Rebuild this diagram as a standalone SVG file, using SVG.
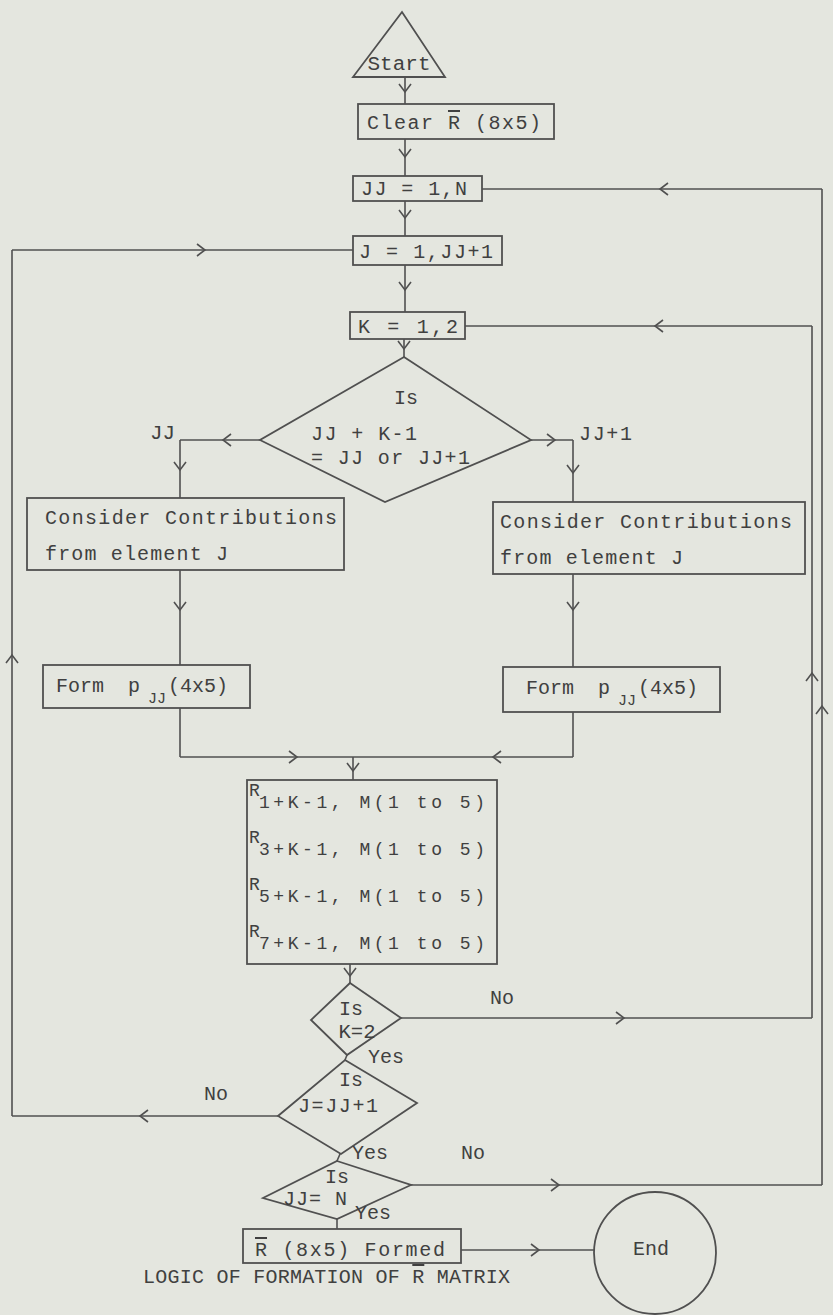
<svg xmlns="http://www.w3.org/2000/svg" width="833" height="1315" viewBox="0 0 833 1315">
<style>
.ln{fill:none;stroke:#505050;stroke-width:1.6}
.bx{fill:none;stroke:#505050;stroke-width:1.8}
.t{font-family:"Liberation Mono","DejaVu Sans Mono",monospace;font-size:20px;fill:#404040}
.r{font-size:18px}
.s{font-size:15px}
.m{text-anchor:middle}
</style>
<defs>
<marker id="chev" viewBox="-9 -7 11 14" markerWidth="11" markerHeight="14" refX="0" refY="0" orient="auto" markerUnits="userSpaceOnUse">
<path d="M-8,-6 L0,0 L-8,6" fill="none" stroke="#505050" stroke-width="1.6"/>
</marker>
</defs>
<rect x="0" y="0" width="833" height="1315" fill="#e4e6df"/>

<g id="connectors" class="ln">
<path d="M405,77 L405,92 L405,104" marker-mid="url(#chev)"/>
<path d="M405,139 L405,157 L405,176" marker-mid="url(#chev)"/>
<path d="M405,201 L405,218 L405,236" marker-mid="url(#chev)"/>
<path d="M405,265 L405,290 L405,312" marker-mid="url(#chev)"/>
<path d="M404,339 L404,349 L404,357" marker-mid="url(#chev)"/>
<path d="M260,440 L223,440 L180,440" marker-mid="url(#chev)"/>
<path d="M180,440 L180,470 L180,498" marker-mid="url(#chev)"/>
<path d="M531,440 L555,440 L573,440" marker-mid="url(#chev)"/>
<path d="M573,440 L573,473 L573,502" marker-mid="url(#chev)"/>
<path d="M180,570 L180,610 L180,665" marker-mid="url(#chev)"/>
<path d="M573,574 L573,610 L573,667" marker-mid="url(#chev)"/>
<path d="M180,708 L180,757"/>
<path d="M180,757 L297,757 L353,757" marker-mid="url(#chev)"/>
<path d="M573,712 L573,757"/>
<path d="M573,757 L493,757 L353,757" marker-mid="url(#chev)"/>
<path d="M353,757 L353,771 L353,780" marker-mid="url(#chev)"/>
<path d="M350,964 L350,976 L350,983" marker-mid="url(#chev)"/>
<path d="M401,1018 L624,1018 L812,1018" marker-mid="url(#chev)"/>
<path d="M812,1018 L812,673 L812,326" marker-mid="url(#chev)"/>
<path d="M812,326 L655,326 L465,326" marker-mid="url(#chev)"/>
<path d="M347,1055 L345,1060"/>
<path d="M278,1116 L140,1116 L12,1116" marker-mid="url(#chev)"/>
<path d="M12,1116 L12,655 L12,250" marker-mid="url(#chev)"/>
<path d="M12,250 L205,250 L353,250" marker-mid="url(#chev)"/>
<path d="M340,1154 L337,1161"/>
<path d="M411,1185 L559,1185 L822,1185" marker-mid="url(#chev)"/>
<path d="M822,1185 L822,706 L822,189" marker-mid="url(#chev)"/>
<path d="M822,189 L660,189 L482,189" marker-mid="url(#chev)"/>
<path d="M337,1219 L337,1229"/>
<path d="M461,1250 L539,1250 L594,1250" marker-mid="url(#chev)"/>
</g>

<g id="start">
<polygon class="bx" points="402,12 353,77 445,77"/>
<text class="t m" x="399" y="70" textLength="63" lengthAdjust="spacingAndGlyphs">Start</text>
</g>
<g id="clear">
<rect class="bx" x="358" y="104" width="196" height="35"/>
<text class="t" x="367" y="129" textLength="174" lengthAdjust="spacing">Clear <tspan text-decoration="overline">R</tspan> (8x5)</text>
</g>
<g id="loopJJ">
<rect class="bx" x="353" y="176" width="129" height="25"/>
<text class="t" x="361" y="195" textLength="106" lengthAdjust="spacing">JJ = 1,N</text>
</g>
<g id="loopJ">
<rect class="bx" x="353" y="236" width="149" height="29"/>
<text class="t" x="359" y="258" textLength="134" lengthAdjust="spacing">J = 1,JJ+1</text>
</g>
<g id="loopK">
<rect class="bx" x="350" y="312" width="115" height="27"/>
<text class="t" x="358" y="333" textLength="100" lengthAdjust="spacing">K = 1,2</text>
</g>
<g id="decision1">
<polygon class="bx" points="404,357 531,440 385,502 260,440"/>
<text class="t m" x="406" y="404">Is</text>
<text class="t" x="311" y="440" textLength="106" lengthAdjust="spacing">JJ + K-1</text>
<text class="t" x="311" y="464" textLength="159" lengthAdjust="spacing">= JJ or JJ+1</text>
<text class="t" x="150" y="439" textLength="25" lengthAdjust="spacingAndGlyphs">JJ</text>
<text class="t" x="579" y="440" textLength="53" lengthAdjust="spacing">JJ+1</text>
</g>
<g id="considerL">
<rect class="bx" x="27" y="498" width="317" height="72"/>
<text class="t" x="45" y="524" textLength="292" lengthAdjust="spacing">Consider Contributions</text>
<text class="t" x="45" y="560" textLength="183" lengthAdjust="spacing">from element J</text>
</g>
<g id="considerR">
<rect class="bx" x="493" y="502" width="312" height="72"/>
<text class="t" x="500" y="528" textLength="292" lengthAdjust="spacing">Consider Contributions</text>
<text class="t" x="500" y="564" textLength="183" lengthAdjust="spacing">from element J</text>
</g>
<g id="formL">
<rect class="bx" x="43" y="665" width="207" height="43"/>
<text class="t" x="56" y="692">Form<tspan x="128">p</tspan><tspan class="s" x="148" dy="11">JJ</tspan><tspan x="168" dy="-11">(4x5)</tspan></text>
</g>
<g id="formR">
<rect class="bx" x="503" y="667" width="217" height="45"/>
<text class="t" x="526" y="694">Form<tspan x="598">p</tspan><tspan class="s" x="618" dy="11">JJ</tspan><tspan x="638" dy="-11">(4x5)</tspan></text>
</g>
<g id="rmatrix">
<rect class="bx" x="247" y="780" width="250" height="184"/>
<text class="t r" x="249" y="796">R<tspan x="259" dy="12" textLength="226" lengthAdjust="spacing">1+K-1, M(1 to 5)</tspan></text>
<text class="t r" x="249" y="843">R<tspan x="259" dy="12" textLength="226" lengthAdjust="spacing">3+K-1, M(1 to 5)</tspan></text>
<text class="t r" x="249" y="890">R<tspan x="259" dy="12" textLength="226" lengthAdjust="spacing">5+K-1, M(1 to 5)</tspan></text>
<text class="t r" x="249" y="937">R<tspan x="259" dy="12" textLength="226" lengthAdjust="spacing">7+K-1, M(1 to 5)</tspan></text>
</g>
<g id="decisionK">
<polygon class="bx" points="350,983 401,1018 347,1055 311,1020"/>
<text class="t m" x="351" y="1015">Is</text>
<text class="t m" x="357" y="1038" textLength="37" lengthAdjust="spacingAndGlyphs">K=2</text>
<text class="t" x="490" y="1004">No</text>
<text class="t" x="368" y="1063">Yes</text>
</g>
<g id="decisionJ">
<polygon class="bx" points="345,1060 417,1103 341,1154 278,1116"/>
<text class="t m" x="351" y="1086">Is</text>
<text class="t" x="298" y="1112" textLength="80" lengthAdjust="spacing">J=JJ+1</text>
<text class="t" x="204" y="1100">No</text>
<text class="t" x="352" y="1159">Yes</text>
<text class="t" x="461" y="1159">No</text>
</g>
<g id="decisionJJ">
<polygon class="bx" points="337,1161 411,1185 337,1219 263,1198"/>
<text class="t m" x="337" y="1183">Is</text>
<text class="t" x="283" y="1205" textLength="64" lengthAdjust="spacing">JJ= N</text>
<text class="t" x="355" y="1219">Yes</text>
</g>
<g id="formed">
<rect class="bx" x="243" y="1229" width="218" height="34"/>
<text class="t" x="255" y="1256" textLength="190" lengthAdjust="spacing"><tspan text-decoration="overline">R</tspan> (8x5) Formed</text>
</g>
<g id="end">
<circle class="bx" cx="655" cy="1253" r="61"/>
<text class="t m" x="651" y="1255">End</text>
</g>
<text class="t" x="143" y="1283" font-size="18" textLength="367" lengthAdjust="spacing">LOGIC OF FORMATION OF <tspan text-decoration="overline">R</tspan> MATRIX</text>
</svg>
